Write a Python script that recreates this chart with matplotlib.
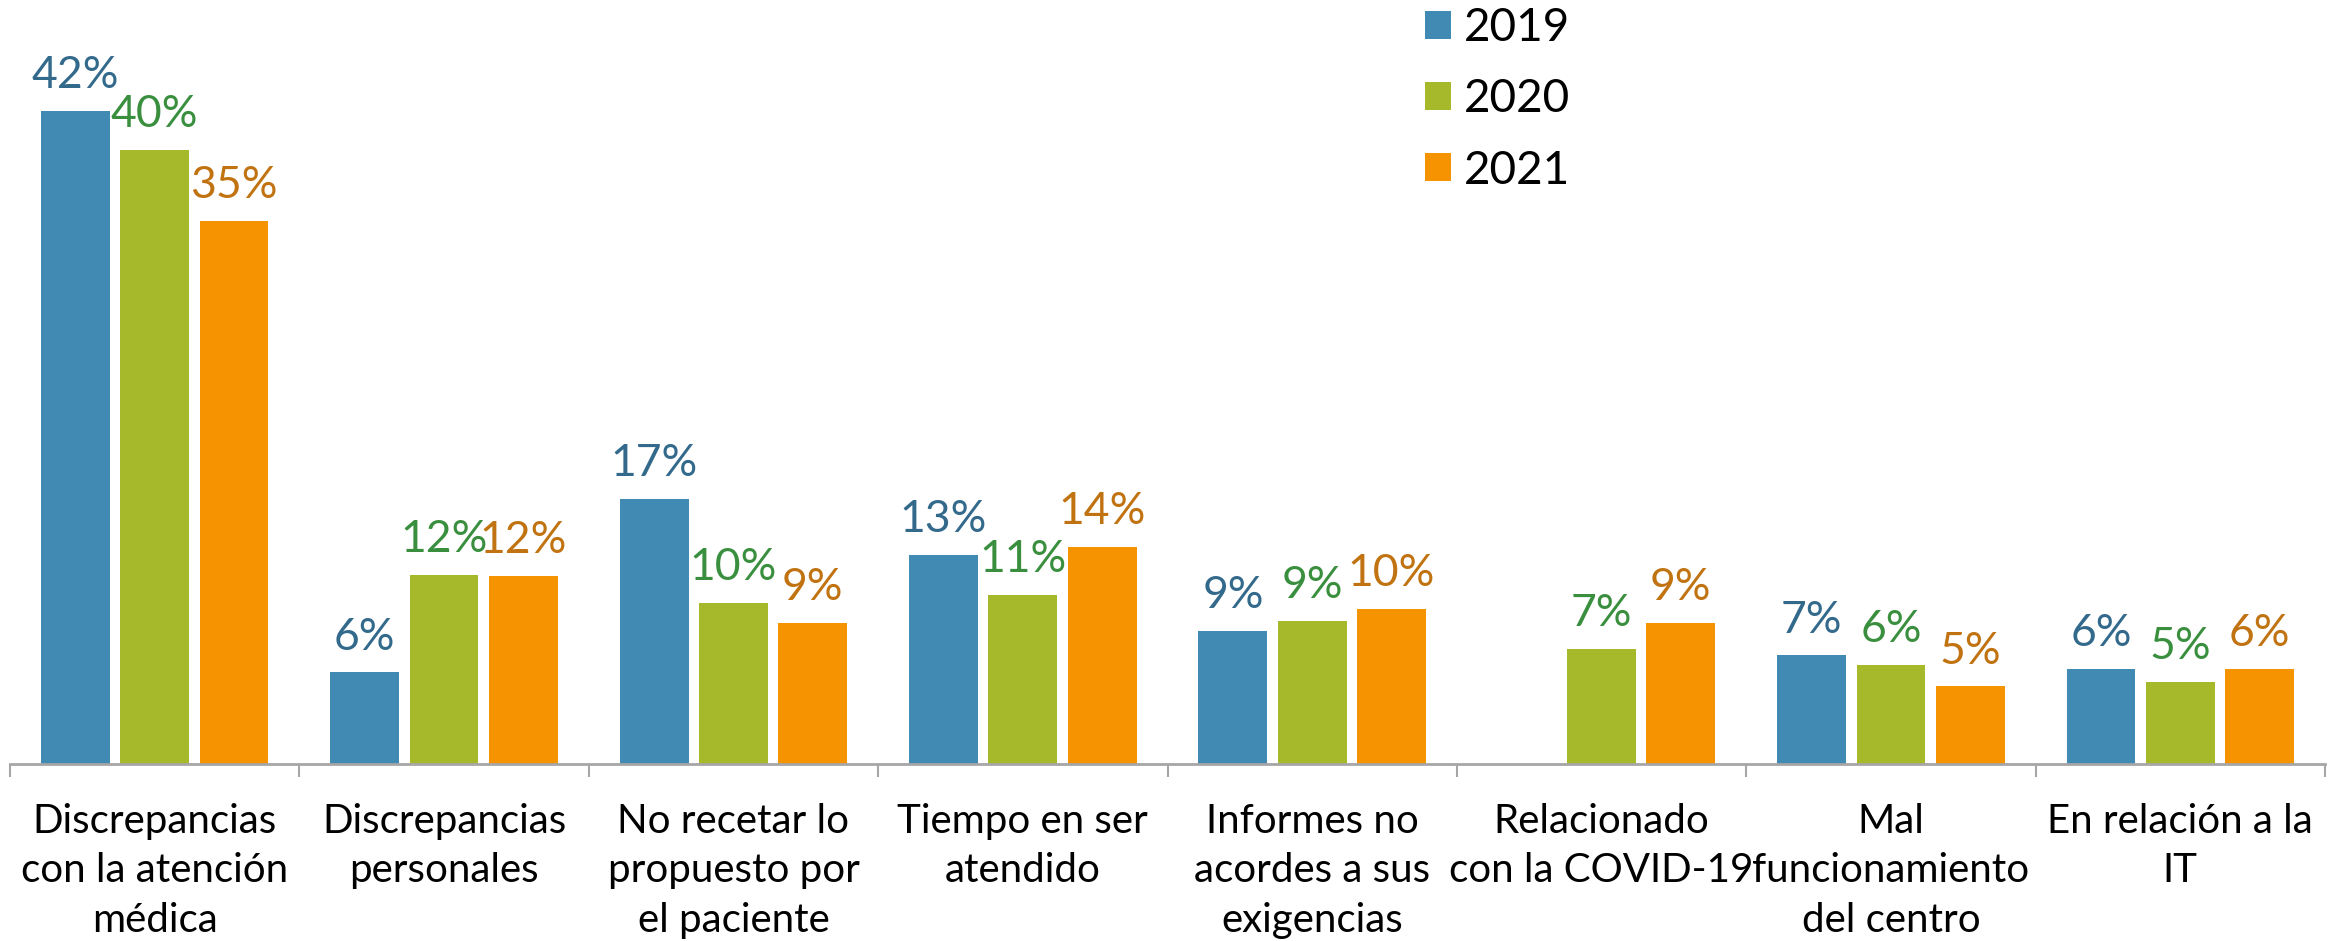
import matplotlib
matplotlib.use("Agg")
import matplotlib.pyplot as plt
from matplotlib.patches import Patch
import numpy as np

categories = [
    "Discrepancias\ncon la atención\nmédica",
    "Discrepancias\npersonales",
    "No recetar lo\npropuesto por\nel paciente",
    "Tiempo en ser\natendido",
    "Informes no\nacordes a sus\nexigencias",
    "Relacionado\ncon la COVID-19",
    "Mal\nfuncionamiento\ndel centro",
    "En relación a la\nIT",
]
years = ["2019", "2020", "2021"]
v2019 = [42.1, 5.9, 17.1, 13.5, 8.6, None, 7.0, 6.1]
v2020 = [39.6, 12.2, 10.4, 10.9, 9.2, 7.4, 6.4, 5.3]
v2021 = [35.0, 12.1, 9.1, 14.0, 10.0, 9.1, 5.0, 6.1]
l2019 = ["42%", "6%", "17%", "13%", "9%", "", "7%", "6%"]
l2020 = ["40%", "12%", "10%", "11%", "9%", "7%", "6%", "5%"]
l2021 = ["35%", "12%", "9%", "14%", "10%", "9%", "5%", "6%"]

bar_colors = ["#418ab3", "#a6b92b", "#f59300"]
label_colors = ["#336a8c", "#3a8f3f", "#c07310"]

plt.rcParams["font.family"] = ["Lato", "DejaVu Sans"]

W, H = 2348, 941
fig = plt.figure(figsize=(W / 100, H / 100), dpi=100)
ax = fig.add_axes([10 / W, (H - 764) / H, 2315 / W, 764 / H])

x = np.arange(len(categories))
step = 0.274
width = 0.238
series = [v2019, v2020, v2021]
labels = [l2019, l2020, l2021]
pct_size = 32
for i, (vals, labs) in enumerate(zip(series, labels)):
    xs = x + (i - 1) * step
    for xi, v, lab in zip(xs, vals, labs):
        if v is None:
            continue
        ax.bar(xi, v, width=width, color=bar_colors[i], linewidth=0, zorder=2)
        ax.annotate(lab, (xi, v), xytext=(0, 16.5), textcoords="offset points",
                    ha="center", va="baseline", fontsize=pct_size,
                    color=label_colors[i])

ax.set_xlim(-0.5, len(categories) - 0.5)
ax.set_ylim(0, 49.26)
for s in ["top", "right", "left"]:
    ax.spines[s].set_visible(False)
ax.spines["bottom"].set_color("#a6a6a6")
ax.spines["bottom"].set_linewidth(2)
ax.set_yticks([])
ax.set_xticks(x)
ax.set_xticklabels(categories, fontsize=29, linespacing=1.42)
ax.tick_params(axis="x", which="major", length=0, pad=28)
ax.set_xticks(np.arange(-0.5, len(categories)), minor=True)
ax.tick_params(axis="x", which="minor", length=9.5, width=1.5, color="#a6a6a6")

handles = [Patch(facecolor=c, edgecolor="none") for c in bar_colors]
leg = fig.legend(handles, years, loc="upper left",
                 bbox_to_anchor=(1423 / W, 1 - 5 / H), frameon=False,
                 fontsize=33, handlelength=0.57, handleheight=0.57,
                 handletextpad=0.27, labelspacing=0.635, borderaxespad=0,
                 borderpad=0.05)

fig.savefig("out.png", dpi=100)
